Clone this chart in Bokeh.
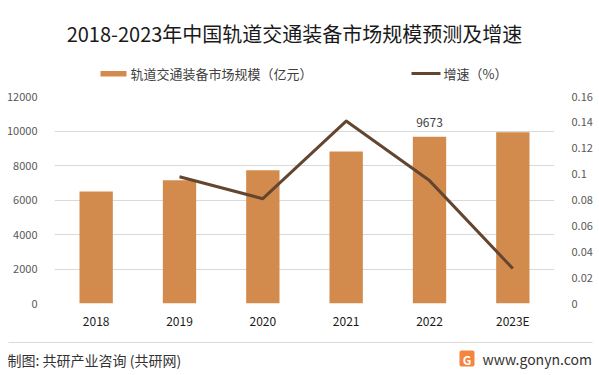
from bokeh.plotting import figure
from bokeh.layouts import column
from bokeh.models import (Range1d, LinearAxis, FixedTicker, CustomJSTickFormatter, Label,
                          BoxAnnotation, FactorRange)
from bokeh.core.properties import value
from bokeh.embed import file_html
from bokeh.resources import INLINE

# ---- data ----
years = ["2018", "2019", "2020", "2021", "2022", "2023E"]
market_size = [6500, 7140, 7720, 8810, 9673, 9930]
growth_years = ["2019", "2020", "2021", "2022", "2023E"]
growth_rate = [0.098, 0.081, 0.141, 0.095, 0.027]
left_ticks = [0, 2000, 4000, 6000, 8000, 10000, 12000]
right_ticks = [0, 0.02, 0.04, 0.06, 0.08, 0.10, 0.12, 0.14, 0.16]
label_years = ["2022"]
label_values = [9673]

title_text = "2018-2023年中国轨道交通装备市场规模预测及增速"
bar_name = "轨道交通装备市场规模（亿元）"
line_name = "增速（%）"
source_text = "制图: 共研产业咨询 (共研网)"
site_text = "www.gonyn.com"

FONT = "Noto Sans CJK SC"
BAR_COLOR = "#D38B4D"
LINE_COLOR = "#634530"
W = 597
H_HEAD = 84
H_MAIN = 251
H_FOOT = 38


def blank(height):
    f = figure(width=W, height=height, x_range=Range1d(0, W), y_range=Range1d(height, 0),
               x_axis_type=None, y_axis_type=None, output_backend="svg", toolbar_location=None,
               min_border=0, frame_align=False)
    f.outline_line_color = None
    f.background_fill_color = "white"
    f.border_fill_color = "white"
    return f


# ---- header: title + legend ----
head = blank(H_HEAD)
head.add_layout(Label(x=294, y=33, text=title_text, text_align="center", text_baseline="middle",
                      text_font=FONT, text_font_size="20px", text_color="#1a1a1a"))
head.add_layout(BoxAnnotation(left=100, right=126, top=70.5, bottom=76,
                              fill_color=BAR_COLOR, fill_alpha=1, line_color=None))
head.add_layout(Label(x=130, y=73, text=bar_name, text_align="left", text_baseline="middle",
                      text_font=FONT, text_font_size="13px", text_color="#404040"))
head.add_layout(BoxAnnotation(left=411, right=440, top=71.5, bottom=74.5,
                              fill_color=LINE_COLOR, fill_alpha=1, line_color=None))
head.add_layout(Label(x=443, y=73, text=line_name, text_align="left", text_baseline="middle",
                      text_font=FONT, text_font_size="13px", text_color="#404040"))

# ---- main chart ----
p = figure(x_range=FactorRange(*years), y_range=Range1d(0, 12000),
           width=W, height=H_MAIN, output_backend="svg", toolbar_location=None,
           min_border_left=54, min_border_right=W - 554, min_border_top=12, min_border_bottom=32,
           frame_align=False)
p.extra_y_ranges = {"g": Range1d(0, 0.16)}
p.outline_line_color = None
p.background_fill_color = "white"
p.border_fill_color = "white"

p.vbar(x=years, top=market_size, width=0.4, fill_color=BAR_COLOR, line_color=None)
p.line(x=growth_years, y=growth_rate, y_range_name="g", line_color=LINE_COLOR,
       line_width=3, line_join="round")
p.text(x=label_years, y=label_values, text=[str(v) for v in label_values], y_offset=-14,
       text_align="center", text_baseline="middle", text_font=value(FONT),
       text_font_size="12px", text_color="#404040")

p.xgrid.grid_line_color = None
p.ygrid.grid_line_color = "#D9D9D9"
p.ygrid.grid_line_width = 1

ya = p.yaxis[0]
ya.ticker = FixedTicker(ticks=left_ticks)
ya.axis_line_color = None
ya.major_tick_line_color = None
ya.minor_tick_line_color = None
ya.major_label_text_color = "#595959"
ya.major_label_text_font = FONT
ya.major_label_text_font_size = "11px"
ya.major_label_standoff = 11

xa = p.xaxis[0]
xa.axis_line_color = None
xa.major_tick_line_color = None
xa.minor_tick_line_color = None
xa.major_label_text_color = "#1a1a1a"
xa.major_label_text_font = FONT
xa.major_label_text_font_size = "12px"
xa.major_label_standoff = 2

ra = LinearAxis(y_range_name="g", ticker=FixedTicker(ticks=right_ticks),
                formatter=CustomJSTickFormatter(code="return String(Number(tick.toFixed(2)));"))
ra.axis_line_color = None
ra.major_tick_line_color = None
ra.minor_tick_line_color = None
ra.major_label_text_color = "#595959"
ra.major_label_text_font = FONT
ra.major_label_text_font_size = "11px"
ra.major_label_standoff = 11
p.add_layout(ra, "right")

# ---- footer ----
foot = blank(H_FOOT)
foot.add_layout(BoxAnnotation(left=8, right=592, top=6.5, bottom=7.5,
                              fill_color="#D9D9D9", fill_alpha=1, line_color=None))
foot.add_layout(Label(x=7, y=24, text=source_text, text_align="left", text_baseline="middle",
                      text_font=FONT, text_font_size="14px", text_color="#333333"))
foot.add_layout(BoxAnnotation(left=459, right=474, top=15, bottom=31, border_radius=2,
                              fill_color="#F3853F", fill_alpha=1, line_color=None))
foot.add_layout(Label(x=466.5, y=23.5, text="G", text_align="center", text_baseline="middle",
                      text_font=FONT, text_font_size="12px", text_font_style="bold",
                      text_color="white"))
foot.add_layout(Label(x=482, y=23, text=site_text, text_align="left", text_baseline="middle",
                      text_font=FONT, text_font_size="14px", text_color="#333333"))

layout = column(head, p, foot, spacing=0)
open("out.html", "w").write(file_html(layout, INLINE))
